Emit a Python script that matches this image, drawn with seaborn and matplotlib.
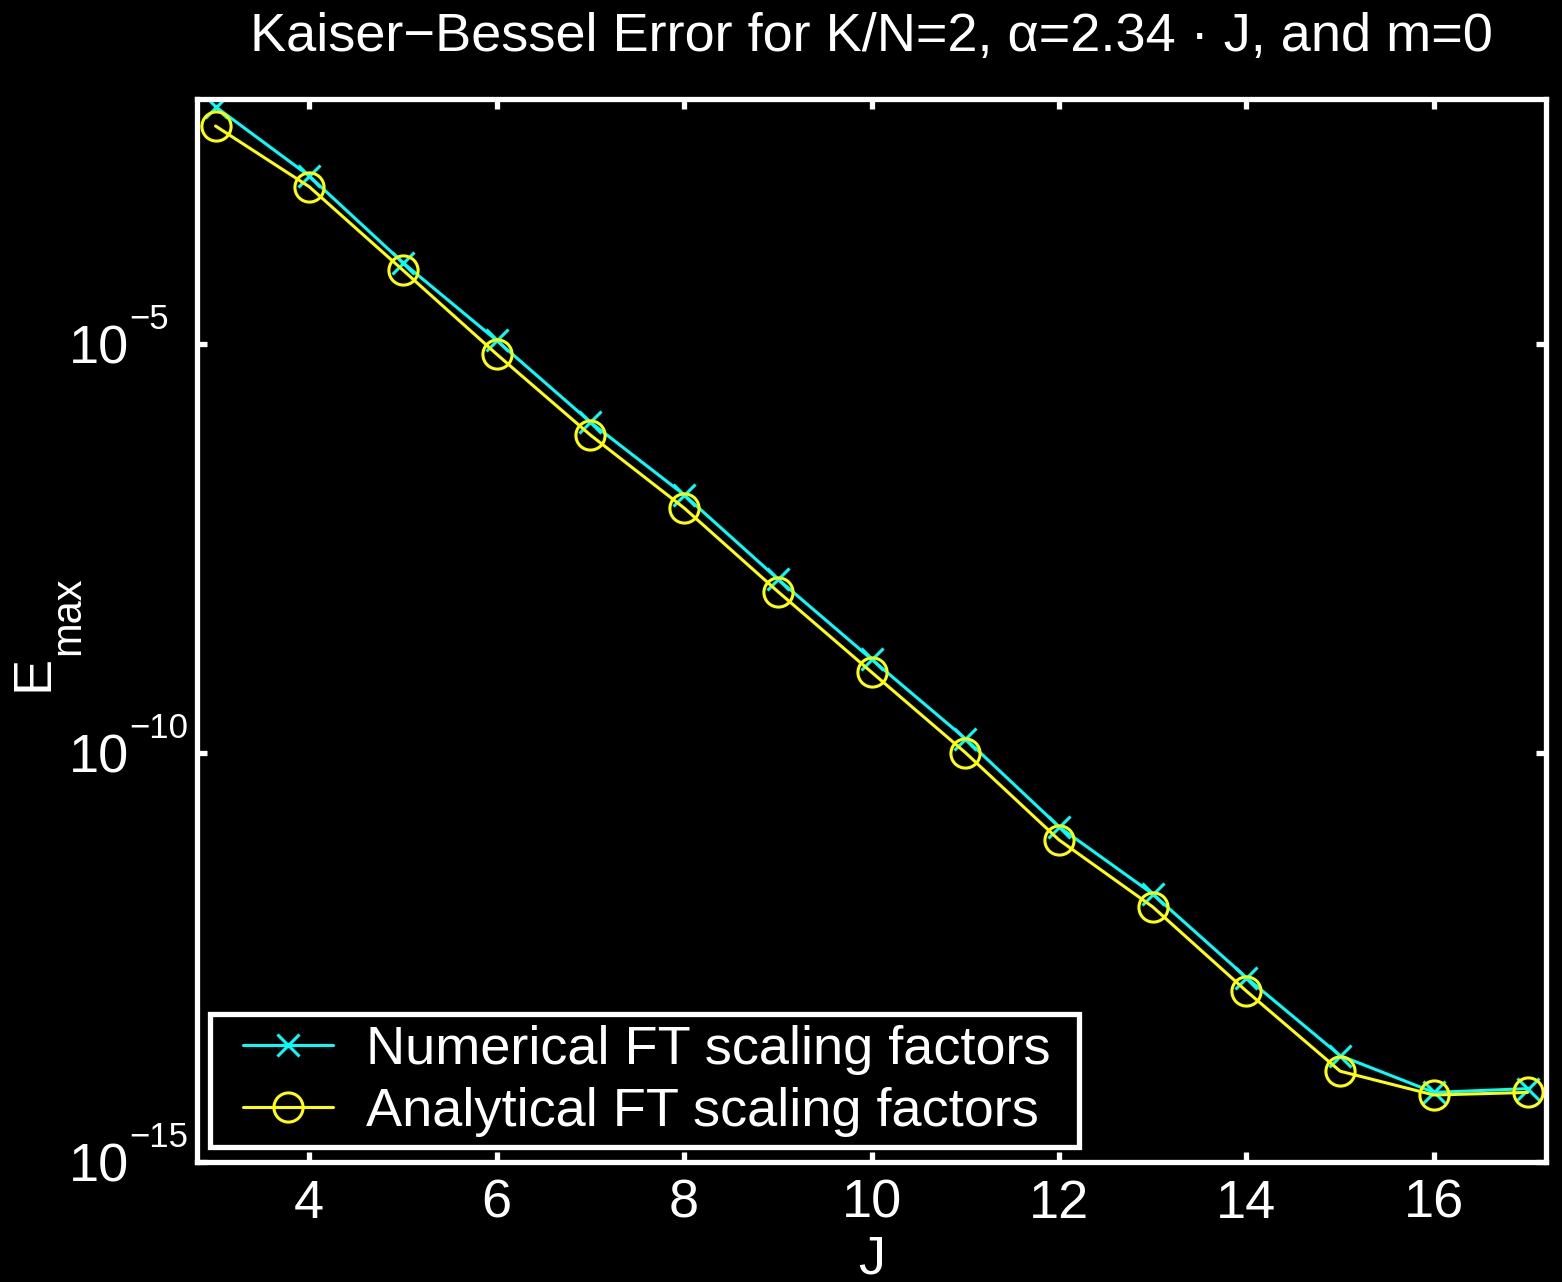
import matplotlib
matplotlib.use("Agg")
import matplotlib.pyplot as plt
import matplotlib.transforms as mtransforms
import numpy as np
import pandas as pd
import seaborn as sns
from matplotlib.ticker import FixedLocator, NullLocator, FuncFormatter
from matplotlib.legend_handler import HandlerLine2D
from matplotlib.lines import Line2D

# Maximum interpolation error of the Kaiser-Bessel kernel vs. kernel width J
J = list(range(3, 18))
err_numerical = [8.1e-3, 1.15e-3, 1.0e-4, 1.12e-5, 1.12e-6, 1.45e-7, 1.35e-8,
                 1.41e-9, 1.51e-10, 1.26e-11, 1.9e-12, 1.8e-13, 2.0e-14,
                 7.1e-15, 7.9e-15]
err_analytical = [4.7e-3, 8.5e-4, 8.1e-5, 7.6e-6, 7.8e-7, 1.0e-7, 9.5e-9,
                  9.8e-10, 1.02e-10, 8.7e-12, 1.32e-12, 1.23e-13, 1.29e-14,
                  6.6e-15, 7.1e-15]
series_labels = ["Numerical FT scaling factors", "Analytical FT scaling factors"]
series_colors = ["#00ffff", "#ffff00"]
series_markers = ["x", "o"]
x_ticks = [4, 6, 8, 10, 12, 14, 16]
y_ticks = [1e-15, 1e-10, 1e-5]

sns.set_theme(style="ticks")
plt.rcParams.update({
    "figure.facecolor": "black",
    "axes.facecolor": "black",
    "savefig.facecolor": "black",
    "axes.edgecolor": "white",
    "text.color": "white",
    "axes.labelcolor": "white",
    "xtick.color": "white",
    "ytick.color": "white",
    "axes.unicode_minus": True,
})
plt.rcParams["font.family"] = ["Liberation Sans", "DejaVu Sans"]

FS = 39       # main text size
FS_SUP = 25   # exponent size on the log axis
FS_SUB = 30   # subscript size of the y label

fig = plt.figure(figsize=(15.62, 12.82), dpi=100)
ax = fig.add_axes([0.126, 0.0936, 0.864, 0.829])

for vals, lab, col, mk in zip([err_numerical, err_analytical], series_labels,
                              series_colors, series_markers):
    ms = 16 if mk == "x" else 21
    sns.lineplot(x=J, y=vals, color=col, marker=mk, markersize=ms,
                 markerfacecolor="none", markeredgecolor=col,
                 markeredgewidth=2.2, linewidth=2.2, label=lab, ax=ax)

ax.set_yscale("log")
ax.set_xlim(2.8, 17.2)
ax.set_ylim(1e-15, 1e-2)
ax.xaxis.set_major_locator(FixedLocator(x_ticks))
ax.yaxis.set_major_locator(FixedLocator(y_ticks))
ax.yaxis.set_minor_locator(NullLocator())
ax.xaxis.set_minor_locator(NullLocator())
# mantissa as the tick label, exponent drawn as a raised, smaller text
ax.yaxis.set_major_formatter(FuncFormatter(lambda v, pos: "10"))

for sp in ax.spines.values():
    sp.set_visible(True)
    sp.set_color("white")
    sp.set_linewidth(3.8)

ax.tick_params(axis="both", which="major", direction="in", length=7, width=3.8,
               labelsize=FS, top=True, right=True, colors="white")
ax.tick_params(axis="x", pad=12)
ax.tick_params(axis="y", pad=49)

exp_trans = mtransforms.offset_copy(
    mtransforms.blended_transform_factory(ax.transAxes, ax.transData),
    fig=fig, x=0, y=11.0, units="points")
for v in y_ticks:
    ax.text(-0.0504, v, "\u2212%d" % round(-np.log10(v)), transform=exp_trans,
            fontsize=FS_SUP, color="white", ha="left", va="baseline",
            clip_on=False)

ax.set_xlabel("J", fontsize=FS, labelpad=4)

# y label: E with a lowered "max" subscript
ax.text(-0.1104, 0.4431, "E", transform=ax.transAxes, fontsize=FS,
        color="white", rotation=90, rotation_mode="anchor",
        ha="left", va="baseline", clip_on=False)
ax.text(-0.0874, 0.4770, "max", transform=ax.transAxes, fontsize=FS_SUB,
        color="white", rotation=90, rotation_mode="anchor",
        ha="left", va="baseline", clip_on=False)

ax.set_title("Kaiser\u2212Bessel Error for K/N=2, \u03b1=2.34 \u00b7 J, and m=0",
             fontsize=FS, color="white", pad=35)

leg = ax.legend(loc="lower left", bbox_to_anchor=(0.0096, 0.014, 0.644, 0.12),
                mode="expand",
                borderaxespad=0, fontsize=FS, frameon=True, fancybox=False,
                framealpha=1, facecolor="black", edgecolor="white",
                handlelength=2.09, handletextpad=0.6, labelspacing=0.225,
                borderpad=0.19,
                handler_map={Line2D: HandlerLine2D(xpad=0.43)})
leg.get_frame().set_linewidth(3.8)
for t in leg.get_texts():
    t.set_color("white")

fig.savefig("out.png", dpi=100, facecolor="black")
